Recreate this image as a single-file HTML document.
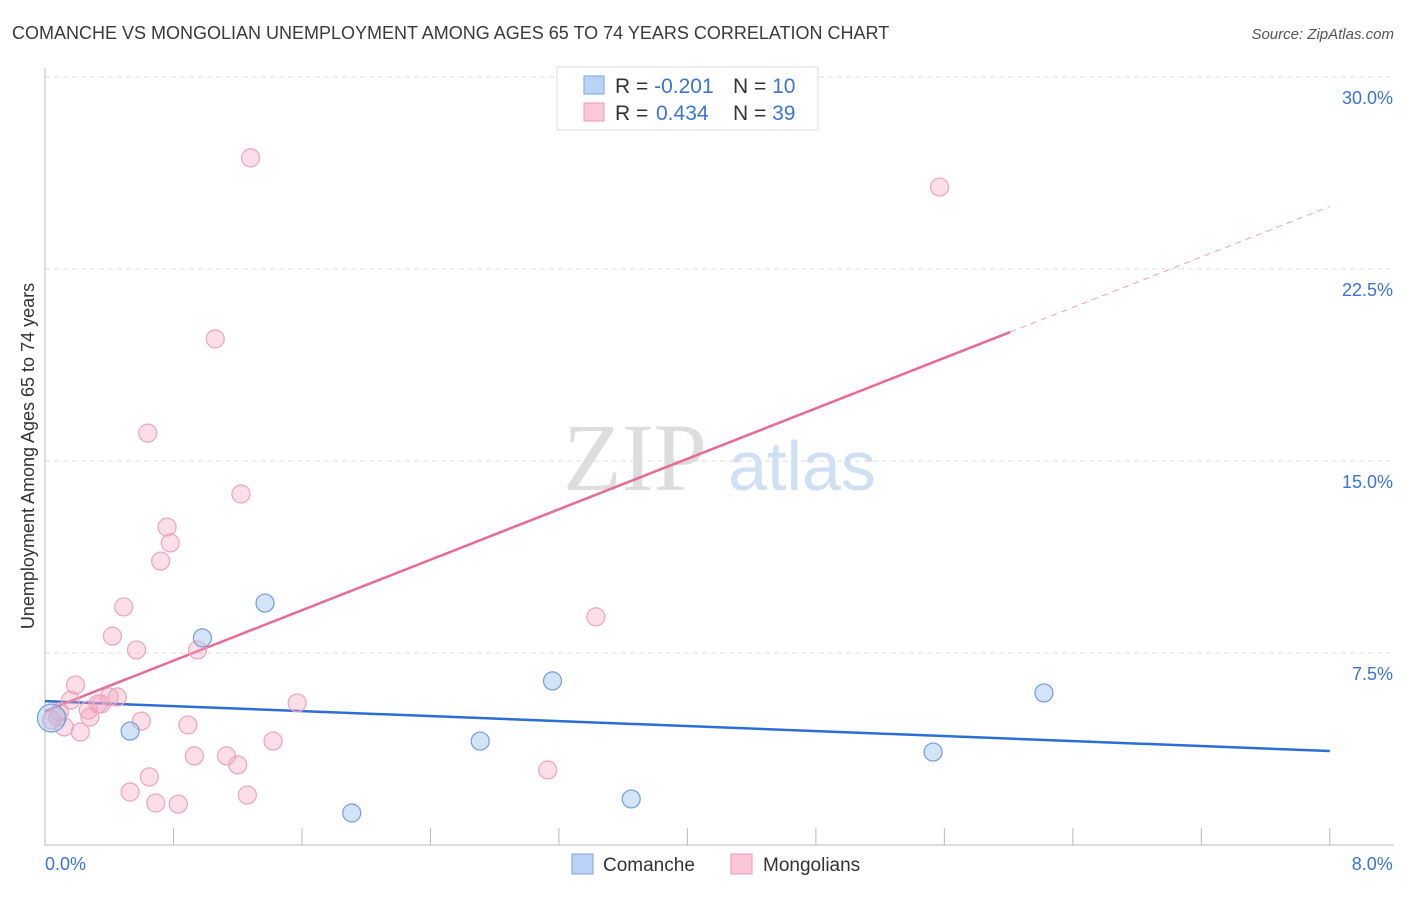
<!DOCTYPE html>
<html><head><meta charset="utf-8"><style>
body{margin:0;background:#fff;font-family:"Liberation Sans",sans-serif}
</style></head><body>
<svg width="1406" height="892" xmlns="http://www.w3.org/2000/svg" font-family="Liberation Sans, sans-serif">
<text x="12" y="39" font-size="18" fill="#3a3a3a">COMANCHE VS MONGOLIAN UNEMPLOYMENT AMONG AGES 65 TO 74 YEARS CORRELATION CHART</text>
<text x="1394" y="39" font-size="15" fill="#555" font-style="italic" text-anchor="end">Source: ZipAtlas.com</text>
<g>
<text x="635" y="490" font-size="96" fill="#ddd" font-family="Liberation Serif, serif" text-anchor="middle">ZIP</text>
<text x="802" y="490" font-size="70" fill="#cfe0f5" text-anchor="middle">atlas</text>
</g>
<g id="grid"></g>
<g id="axes"></g>
<g id="lines"></g>
<g id="pts"></g>
<text transform="translate(34,456) rotate(-90)" font-size="18" fill="#333" text-anchor="middle">Unemployment Among Ages 65 to 74 years</text>
<g>
<rect x="557" y="67" width="261" height="63" fill="#fff" stroke="#ddd"/>
<rect x="584" y="76" width="20" height="18" fill="#b8d3f5" stroke="#7aa7e0"/>
<rect x="584" y="103" width="20" height="18" fill="#fcc8d8" stroke="#eb9ab5"/>
<text x="615" y="93" font-size="21" fill="#333">R = <tspan fill="#3a74d4">-0.201</tspan><tspan x="733">N = </tspan><tspan fill="#3a74d4">10</tspan></text>
<text x="615" y="120" font-size="21" fill="#333">R = <tspan fill="#3a74d4" x="656">0.434</tspan><tspan x="733">N = </tspan><tspan fill="#3a74d4">39</tspan></text>
</g>
<g>
<rect x="572" y="854" width="21" height="20" fill="#b8d3f5" stroke="#7aa7e0"/>
<text x="603" y="871" font-size="19" fill="#333">Comanche</text>
<rect x="731" y="854" width="21" height="20" fill="#fcc8d8" stroke="#eb9ab5"/>
<text x="763" y="871" font-size="19" fill="#333">Mongolians</text>
</g>
</svg>
<script>
const xTicks=[0,0.8,1.6,2.4,3.2,4.0,4.8,5.6,6.4,7.2,8.0];
const yTicks=[7.5,15,22.5,30];
const yTickLabels=["7.5%","15.0%","22.5%","30.0%"];
const xEndLabels=["0.0%","8.0%"];
const comancheX=[0.04,0.53,0.98,1.37,1.91,2.71,3.16,3.65,5.53,6.22];
const comancheY=[4.96,4.45,8.09,9.45,1.25,4.06,6.41,1.80,3.63,5.94];
const mongolX=[1.28,5.57,1.06,0.64,1.22,0.76,0.78,0.72,0.49,3.43,0.42,0.57,0.95,0.19,0.16,0.40,0.45,0.33,0.35,1.57,0.27,0.28,0.60,0.08,0.04,0.12,0.22,0.89,1.42,0.93,1.13,1.20,0.65,3.13,0.53,1.26,0.69,0.83,0.09];
const mongolY=[26.84,25.70,19.77,16.09,13.71,12.42,11.80,11.09,9.30,8.91,8.16,7.62,7.62,6.25,5.66,5.78,5.78,5.51,5.51,5.55,5.27,5.00,4.84,5.00,4.88,4.61,4.41,4.69,4.06,3.48,3.48,3.13,2.66,2.93,2.07,1.95,1.64,1.60,5.20];
const comancheTrend=[5.62,3.67];
const mongolTrend=[5.23,24.94];
const mongolSolidEnd=6.01;
const NS="http://www.w3.org/2000/svg";
const X=v=>45+v*160.6, Y=v=>845-v*25.6;
function mk(t,a,p){const e=document.createElementNS(NS,t);for(const k in a)e.setAttribute(k,a[k]);document.getElementById(p).appendChild(e);return e;}
yTicks.forEach((t,i)=>{
 const g=mk('line',{x1:45,x2:1394,y1:Y(t),y2:Y(t),stroke:'#ddd','stroke-dasharray':'5,4'},'grid');
 
 
 const l=mk('text',{x:1393,y:Y(t)+27,'font-size':18,fill:'#3a74d4','text-anchor':'end'},'grid');
 l.textContent=yTickLabels[i];
 
 
});
const ya=mk('line',{x1:45,x2:45,y1:68,y2:845,stroke:'#bbb'},'axes');


const xa=mk('line',{x1:45,x2:1394,y1:845,y2:845,stroke:'#bbb'},'axes');


xTicks.forEach(t=>{
 const e=mk('line',{x1:X(t),x2:X(t),y1:845,y2:828,stroke:'#bbb'},'axes');
 
 
});
[[0,'start'],[8,'end']].forEach(([v,a],i)=>{
 const e=mk('text',{x:X(v)+(i?63:0),y:870,'font-size':18,fill:'#3a74d4','text-anchor':a},'axes');
 e.textContent=xEndLabels[i];
 
 
});
mongolX.forEach((x,i)=>{
 const c=mk('circle',{cx:X(x),cy:Y(mongolY[i]),r:9,fill:'rgba(244,160,188,0.35)',stroke:'#eca4bc','stroke-width':1.2},'pts');
 
 
});
comancheX.forEach((x,i)=>{
 const c=mk('circle',{cx:X(x),cy:Y(comancheY[i]),r:i==0?14:9,fill:'rgba(160,195,240,0.45)',stroke:'#6f9edc','stroke-width':1.2},'pts');
 
 
});
const bl=mk('line',{x1:X(0),y1:Y(comancheTrend[0]),x2:X(8),y2:Y(comancheTrend[1]),stroke:'#2a6fd6','stroke-width':2.5},'lines');


const pm=v=>mongolTrend[0]+(mongolTrend[1]-mongolTrend[0])*v/8;
const pl=mk('line',{x1:X(0),y1:Y(pm(0)),x2:X(mongolSolidEnd),y2:Y(pm(mongolSolidEnd)),stroke:'#e86a96','stroke-width':2.5},'lines');


const pd=mk('line',{x1:X(mongolSolidEnd),y1:Y(pm(mongolSolidEnd)),x2:X(8),y2:Y(pm(8)),stroke:'#eba0b8','stroke-width':1,'stroke-dasharray':'6,5'},'lines');


</script>
</body></html>
